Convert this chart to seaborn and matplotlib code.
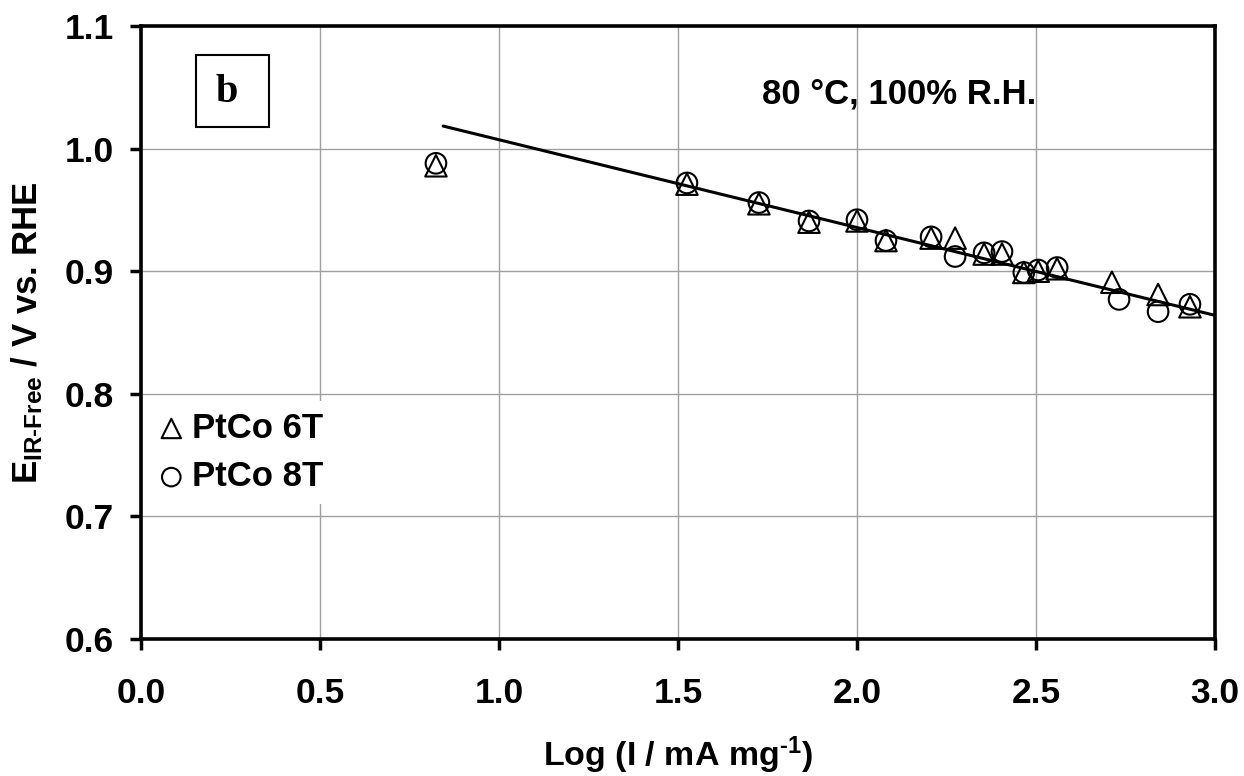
import numpy as np
import pandas as pd
import matplotlib
matplotlib.use("Agg")
import matplotlib.pyplot as plt
import seaborn as sns
from matplotlib.patches import Rectangle

# ---- data ----
x_6t = [0.824, 1.525, 1.726, 1.866, 2.000, 2.081, 2.207, 2.274, 2.355, 2.405,
        2.466, 2.506, 2.559, 2.712, 2.841, 2.930]
y_6t = [0.986, 0.971, 0.955, 0.940, 0.941, 0.925, 0.927, 0.927, 0.914, 0.914,
        0.899, 0.900, 0.902, 0.891, 0.881, 0.871]
x_8t = [0.824, 1.525, 1.726, 1.866, 2.000, 2.081, 2.207, 2.274, 2.355, 2.405,
        2.466, 2.506, 2.559, 2.732, 2.841, 2.930]
y_8t = [0.988, 0.972, 0.956, 0.941, 0.942, 0.925, 0.928, 0.912, 0.915, 0.916,
        0.899, 0.901, 0.903, 0.877, 0.867, 0.873]
fit_x = [0.844, 3.0]
fit_y = [1.0184, 0.864]
series_names = ["PtCo 6T", "PtCo 8T"]
x_ticks = [0.0, 0.5, 1.0, 1.5, 2.0, 2.5, 3.0]
y_ticks = [0.6, 0.7, 0.8, 0.9, 1.0, 1.1]

sns.set_style("white")
plt.rcParams['font.family'] = ['Liberation Sans', 'DejaVu Sans']
plt.rcParams['font.weight'] = 'bold'
plt.rcParams['text.color'] = 'black'
plt.rcParams['axes.labelcolor'] = 'black'
plt.rcParams['xtick.color'] = 'black'
plt.rcParams['ytick.color'] = 'black'
plt.rcParams['mathtext.fontset'] = 'custom'
plt.rcParams['mathtext.rm'] = 'Liberation Sans:bold'
plt.rcParams['mathtext.bf'] = 'Liberation Sans:bold'
plt.rcParams['mathtext.it'] = 'Liberation Sans:bold'
plt.rcParams['mathtext.default'] = 'bf'

df6 = pd.DataFrame({"x": x_6t, "y": y_6t, "s": series_names[0]})
df8 = pd.DataFrame({"x": x_8t, "y": y_8t, "s": series_names[1]})
dfit = pd.DataFrame({"x": fit_x, "y": fit_y})

fig = plt.figure(figsize=(12.44, 7.76), dpi=100)
ax = fig.add_axes([0.1133, 0.1765, 0.8634, 0.79])

sns.lineplot(data=dfit, x="x", y="y", ax=ax, color="black", lw=2.2, zorder=3)
sns.scatterplot(data=df6, x="x", y="y", ax=ax, marker="^", s=240,
                facecolor="none", edgecolor="black", linewidth=1.5,
                label=series_names[0], zorder=4)
sns.scatterplot(data=df8, x="x", y="y", ax=ax, marker="o", s=220,
                facecolor="none", edgecolor="black", linewidth=1.5,
                label=series_names[1], zorder=5)

ax.set_xlim(0, 3.0)
ax.set_ylim(0.6, 1.1)
ax.set_xticks(x_ticks)
ax.set_yticks(y_ticks)
ax.set_xticklabels([f"{v:.1f}" for v in x_ticks], fontsize=25.5, fontweight='bold')
ax.set_yticklabels([f"{v:.1f}" for v in y_ticks], fontsize=25.5, fontweight='bold')
ax.grid(True, color="#a0a0a0", lw=1.0)
ax.set_axisbelow(True)
ax.tick_params(axis='both', direction='out', length=8, width=2.5,
               bottom=True, left=True, top=False, right=False)
ax.tick_params(axis='x', pad=19)
ax.tick_params(axis='y', pad=11.5)
for sp in ax.spines.values():
    sp.set_visible(True)
    sp.set_color("black")
    sp.set_linewidth(2.6)

ax.set_xlabel(r"Log (I / mA mg$^{\text{-}1}$)", fontsize=24.5, fontweight='bold', labelpad=18)
ax.set_ylabel(r"E$_{\mathrm{IR\text{-}Free}}$ / V vs. RHE", fontsize=25,
              fontweight='bold', labelpad=14)

leg = ax.legend(loc="upper left", bbox_to_anchor=(0.004, 0.388), borderaxespad=0,
                frameon=True, fancybox=False, edgecolor="none", facecolor="white",
                framealpha=1, prop={'weight': 'bold', 'size': 25},
                handletextpad=0.15, handlelength=0.9, borderpad=0.3,
                labelspacing=0.45, markerscale=0.9)
for h in leg.legend_handles:
    h.set_facecolor("none")
    h.set_edgecolor("black")

ax.add_patch(Rectangle((0.051, 0.835), 0.068, 0.118, transform=ax.transAxes,
                       fill=False, edgecolor="black", lw=1.5, zorder=6))
ax.text(0.080, 0.876, "b", transform=ax.transAxes, ha="center", va="baseline",
        fontsize=29, fontweight='bold', family=['Liberation Serif'], zorder=7)
ax.text(0.578, 0.874, "80 °C, 100% R.H.", transform=ax.transAxes, ha="left",
        va="baseline", fontsize=25, fontweight='bold')

fig.savefig("out.png", dpi=100)
